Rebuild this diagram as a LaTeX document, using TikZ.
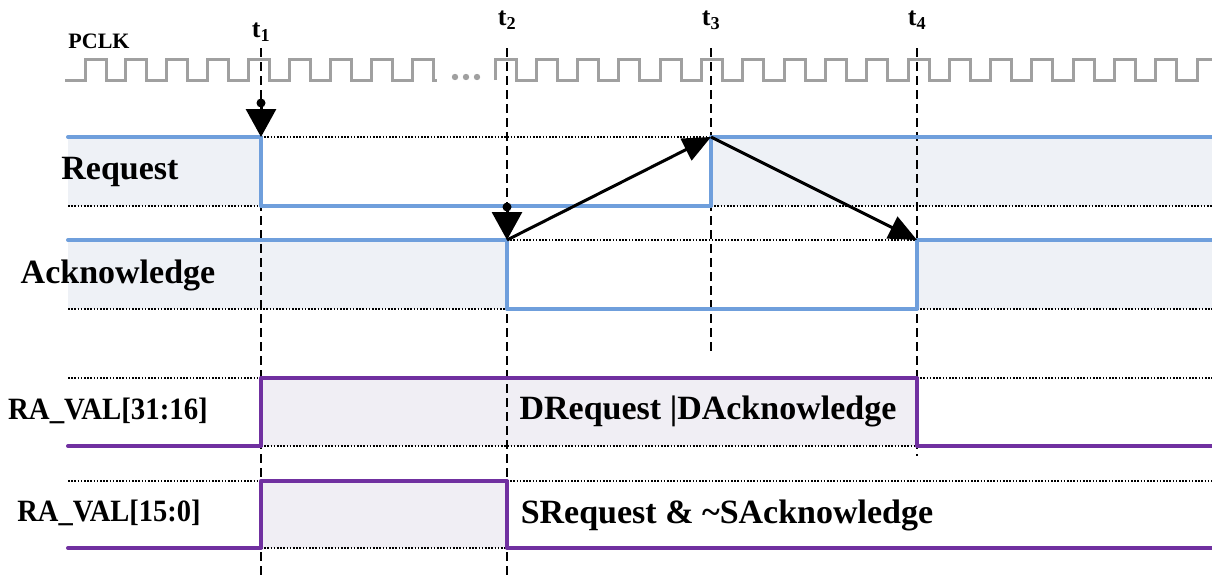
\documentclass[tikz,border=0pt]{standalone}
\usepackage{fontspec}
\setmainfont{Liberation Serif}
\usetikzlibrary{arrows.meta}
\definecolor{sigblue}{HTML}{6F9FDC}
\definecolor{shadeblue}{HTML}{EEF1F6}
\definecolor{sigpurple}{HTML}{7030A0}
\definecolor{shadepurple}{HTML}{F0EEF4}
\definecolor{clkgray}{HTML}{A0A0A0}
\begin{document}
\begin{tikzpicture}[x=1pt,y=-1pt,
  clk/.style={clkgray, line width=3pt},
  bluesig/.style={sigblue, line width=4pt, line cap=round, line join=round},
  purplesig/.style={sigpurple, line width=4pt, line cap=round, line join=round},
  guide/.style={black, line width=1.2pt, dash pattern=on 1.6pt off 1.6pt},
  tline/.style={black, line width=1.4pt, dash pattern=on 9pt off 5pt},
  evtv/.style={-{Triangle[length=28pt,width=30pt]}, line width=3pt},
  evtd/.style={-{Triangle[length=28pt,width=24pt]}, line width=3pt},
  lab/.style={font=\fontsize{34}{38}\selectfont\bfseries, inner sep=0pt},
  rlab/.style={font=\fontsize{31}{36}\selectfont\bfseries, inner sep=0pt},
  tlab/.style={font=\fontsize{26}{30}\selectfont\bfseries, inner sep=0pt},
  ]
\path[use as bounding box] (0,0) rectangle (1212,576);

% shading
\fill[shadeblue] (68,137) rectangle (261,206);
\fill[shadeblue] (711,137) rectangle (1212,206);
\fill[shadeblue] (68,240) rectangle (507,309);
\fill[shadeblue] (917,240) rectangle (1212,309);
\fill[shadepurple] (261,378) rectangle (917,446);
\fill[shadepurple] (261,481) rectangle (507,548);

% dotted guides
\draw[guide] (261,137) -- (711,137);
\draw[guide] (68,206) -- (261,206);
\draw[guide] (711,206) -- (1212,206);
\draw[guide] (507,240) -- (917,240);
\draw[guide] (68,309) -- (507,309);
\draw[guide] (917,309) -- (1212,309);
\draw[guide] (68,378) -- (261,378);
\draw[guide] (917,378) -- (1212,378);
\draw[guide] (261,446) -- (917,446);
\draw[guide] (68,481) -- (261,481);
\draw[guide] (507,481) -- (1212,481);
\draw[guide] (261,548) -- (507,548);

% clock
\draw[clk] (65,80) foreach \i in {0,...,8} {
  -- ({85+40.9*\i},80) -- ({85+40.9*\i},59) -- ({106+40.9*\i},59) -- ({106+40.9*\i},80) } -- (437,80);
\draw[clk] (495,80) foreach \i in {0,...,16} {
  -- ({495+41.3*\i},80) -- ({495+41.3*\i},59) -- ({516+41.3*\i},59) -- ({516+41.3*\i},80) } -- (1197,80) -- (1197,59) -- (1212,59);
\foreach \x in {455,466,477} \fill[clkgray] (\x,77) circle (3.2);

% time labels and lines
\node[tlab] (t1) at (261,32) {t\textsubscript{1}};
\node[tlab] (t2) at (507,20) {t\textsubscript{2}};
\node[tlab] (t3) at (711,20) {t\textsubscript{3}};
\node[tlab] (t4) at (917,20) {t\textsubscript{4}};
\coordinate (t1top) at (261,48); \coordinate (t1bot) at (261,576);
\coordinate (t2top) at (507,48); \coordinate (t2bot) at (507,576);
\coordinate (t3top) at (711,48); \coordinate (t3bot) at (711,352);
\coordinate (t4top) at (917,48); \coordinate (t4bot) at (917,456);
\draw[tline] (t1top) -- (t1bot);
\draw[tline] (t2top) -- (t2bot);
\draw[tline] (t3top) -- (t3bot);
\draw[tline] (t4top) -- (t4bot);

% signals
\draw[bluesig] (68,137) -- (261,137) -- (261,206) -- (711,206) -- (711,137) -- (1212,137);
\draw[bluesig] (68,240) -- (507,240) -- (507,309) -- (917,309) -- (917,240) -- (1212,240);
\draw[purplesig] (68,446) -- (261,446) -- (261,378) -- (917,378) -- (917,446) -- (1212,446);
\draw[purplesig] (68,548) -- (261,548) -- (261,481) -- (507,481) -- (507,548) -- (1212,548);

% event arrows
\coordinate (t1src) at (261,103);
\coordinate (reqfall) at (261,137);
\coordinate (t2src) at (507,207);
\coordinate (ackfall) at (507,240);
\coordinate (reqrise) at (711,137);
\coordinate (ackrise) at (917,240);
\fill (t1src) circle (4.5);
\fill (t2src) circle (4.5);
\draw[evtv] (t1src) -- (reqfall);
\draw[evtv] (t2src) -- (ackfall);
\draw[evtd] (ackfall) -- (reqrise);
\draw[evtd] (reqrise) -- (ackrise);

% labels
\node[font=\fontsize{22}{24}\selectfont\bfseries, inner sep=0pt] (pclk) at (99,41) {PCLK};
\node[lab] (req) at (120,172) {Request};
\node[lab] (ack) at (118,275) {Acknowledge};
\node[rlab] (ra1) at (108,411) {\scalebox{0.93}[1]{RA\_VAL[31:16]}};
\node[rlab] (ra0) at (109,513) {\scalebox{0.92}[1]{RA\_VAL[15:0]}};
\node[lab] (dexpr) at (708,411) {DRequest |DAcknowledge};
\node[lab] (sexpr) at (727,515) {SRequest \& \textasciitilde SAcknowledge};
\end{tikzpicture}
\end{document}
